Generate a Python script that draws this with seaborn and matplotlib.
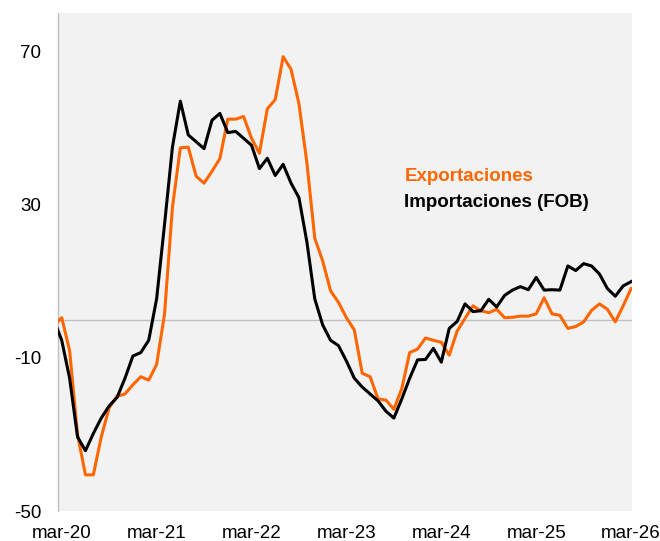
import matplotlib
matplotlib.use("Agg")
from matplotlib import pyplot as plt
import pandas as pd
import numpy as np
import seaborn as sb

# monthly values, feb-20 .. mar-26 (feb-20 only feeds the clipped first segment)
exportaciones = [-1.5, 0.5, -8.1, -30.0, -40.5, -40.5, -30.6, -23.0, -20.0, -19.4, -17.0,
                 -14.9, -15.8, -11.7, 1.4, 29.3, 44.8, 45.0, 37.4, 35.6, 38.7,
                 42.0, 52.3, 52.3, 53.0, 47.3, 43.4, 55.0, 57.4, 68.6, 65.3,
                 56.3, 41.0, 21.2, 15.3, 7.5, 4.5, 0.5, -2.7, -14.0, -14.9,
                 -20.7, -21.0, -23.4, -18.0, -8.6, -7.7, -4.8, -5.4, -5.9, -9.3,
                 -3.0, 0.3, 3.6, 2.3, 1.8, 2.7, 0.5, 0.6, 0.9, 0.9,
                 1.5, 5.7, 1.5, 1.1, -2.3, -1.8, -0.6, 2.4, 4.1, 2.7,
                 -0.6, 3.6, 8.1]
importaciones = [0.0, -5.4, -15.3, -30.6, -34.2, -29.7, -25.7, -22.5, -20.3, -15.3, -9.5,
                 -8.6, -5.4, 5.4, 24.8, 45.0, 57.0, 48.2, 46.4, 44.6, 52.0,
                 53.8, 48.8, 49.1, 47.3, 45.5, 39.4, 42.1, 37.6, 40.5, 35.6,
                 31.8, 20.3, 5.4, -1.4, -5.4, -6.8, -10.8, -15.3, -17.6, -19.4,
                 -21.2, -23.9, -25.7, -20.7, -15.3, -10.5, -10.4, -7.5, -11.1, -2.3,
                 -0.5, 4.1, 2.1, 2.3, 5.3, 3.3, 6.3, 7.7, 8.6, 7.8,
                 11.0, 7.7, 7.8, 7.7, 14.0, 12.8, 14.6, 14.0, 11.9, 8.1,
                 6.1, 8.8, 9.9]
tick_labels = ["mar-20", "mar-21", "mar-22", "mar-23", "mar-24", "mar-25", "mar-26"]
y_ticks = [-50, -10, 30, 70]

months = np.arange(-1, len(exportaciones) - 1)
df = pd.DataFrame({"mes": months, "Exportaciones": exportaciones,
                   "Importaciones (FOB)": importaciones})

orange = "#FF6600"
plt.rcParams["font.family"] = ["Liberation Sans", "DejaVu Sans"]
plt.rcParams["axes.unicode_minus"] = False

fig = plt.figure(figsize=(6.6, 5.41), dpi=100)
ax = fig.add_axes([0.088, 0.055, 0.870, 0.921])
ax.set_facecolor("#F2F2F2")

ax.axhline(0, color="#BFBFBF", linewidth=1, zorder=1)
sb.lineplot(data=df, x="mes", y="Exportaciones", color=orange, linewidth=2.2, ax=ax, zorder=3)
sb.lineplot(data=df, x="mes", y="Importaciones (FOB)", color="black", linewidth=2.2, ax=ax, zorder=4)

ax.set_xlim(-0.46, 72.15)
ax.set_ylim(-50, 80)
ax.set_xticks(range(0, 73, 12))
ax.set_xticklabels(tick_labels)
ax.set_yticks(y_ticks)
ax.tick_params(axis="both", length=0, labelsize=13.5, colors="black")
ax.tick_params(axis="y", pad=12)
ax.tick_params(axis="x", pad=10)
ax.set_xlabel("")
ax.set_ylabel("")

for side in ["top", "right", "bottom"]:
    ax.spines[side].set_visible(False)
ax.spines["left"].set_color("#BFBFBF")
ax.spines["left"].set_linewidth(1)

ax.text(0.603, 0.671, "Exportaciones", transform=ax.transAxes, color=orange,
        fontsize=13.5, fontweight="bold", va="center", ha="left")
ax.text(0.603, 0.620, "Importaciones (FOB)", transform=ax.transAxes, color="black",
        fontsize=13.5, fontweight="bold", va="center", ha="left")

plt.savefig("out.png", dpi=100)
plt.close("all")
